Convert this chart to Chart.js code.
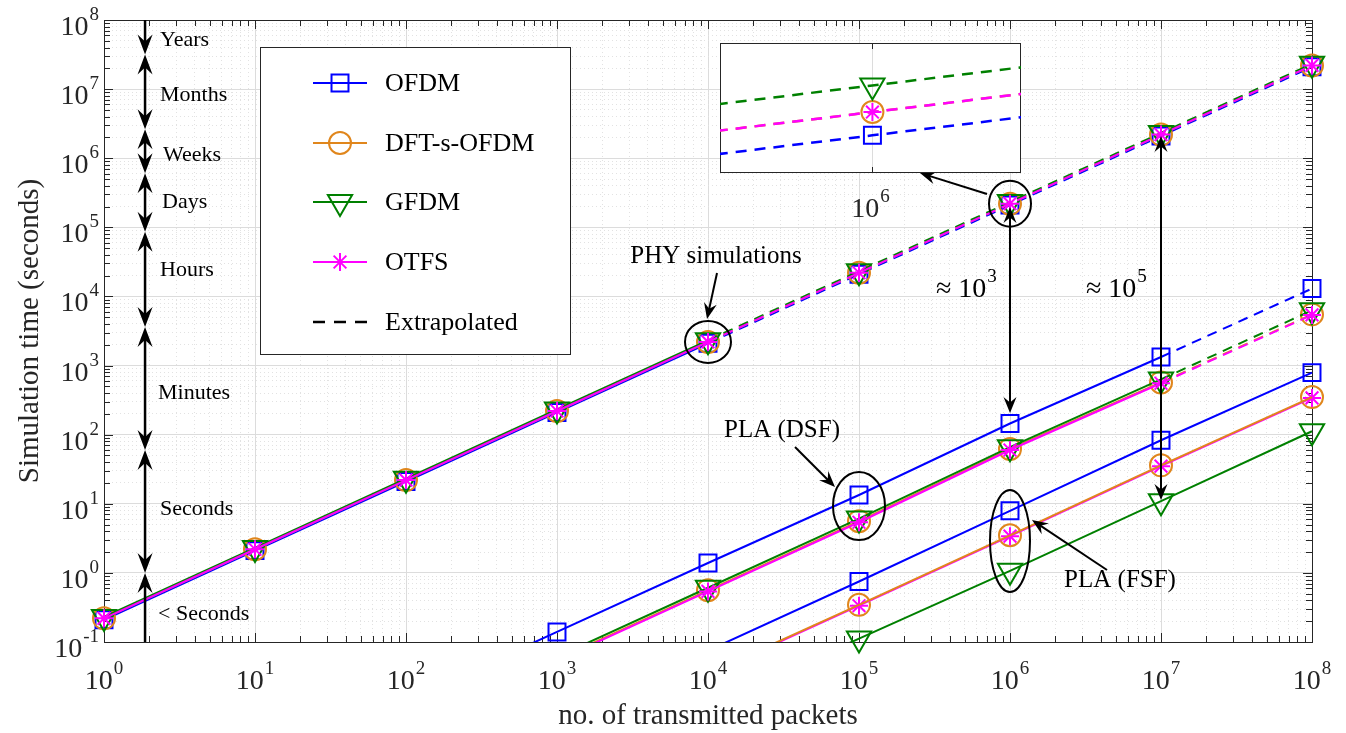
<!DOCTYPE html>
<html>
<head>
<meta charset="utf-8">
<script src="https://cdn.jsdelivr.net/npm/chart.js@4.4.1/dist/chart.umd.min.js"></script>
<style>
  html, body { margin: 0; padding: 0; background: #fff; overflow: hidden; }
  #wrap { position: relative; width: 1346px; height: 733px; }
  #main { position: absolute; left: 0; top: 0; width: 1346px; height: 733px; }
  #inset { position: absolute; left: 720px; top: 43px; width: 301px; height: 185px; }
</style>
</head>
<body>
<div id="wrap">
  <div id="main"><canvas id="mainChart"></canvas></div>
  <div id="inset"><canvas id="insetChart"></canvas></div>
</div>
<script>
// x axis: number of transmitted packets
const packets = [1, 10, 100, 1e3, 1e4, 1e5, 1e6, 1e7, 1e8];

// PHY simulation time in seconds (measured up to 1e4 packets, extrapolated after)
const phyOfdm = [0.21, 2.1, 21, 210, 2100, 21000, 2.1e5, 2.1e6, 2.1e7];
const phyDft  = [0.22, 2.2, 22, 220, 2200, 22000, 2.2e5, 2.2e6, 2.2e7];
const phyGfdm = [0.23, 2.3, 23, 232, 2320, 23200, 2.32e5, 2.32e6, 2.32e7];
const phyOtfs = [0.22, 2.2, 22, 220, 2200, 22000, 2.2e5, 2.2e6, 2.2e7];
const phyMeasuredUpTo = 1e4;

// PLA (DSF) time, measured up to 1e7 packets
const dsfOfdm = [null, null, 0.014, 0.14, 1.39, 13.4, 145, 1330, 13000];
const dsfDft  = [null, null, null, 0.056, 0.56, 5.6, 62, 570, 5500];
const dsfGfdm = [null, null, null, 0.061, 0.61, 6.1, 66, 630, 6300];
const dsfOtfs = [null, null, null, 0.054, 0.54, 5.4, 60, 555, 5400];
const dsfMeasuredUpTo = 1e7;

// PLA (FSF) time, all measured
const fsfOfdm = [null, null, null, null, 0.075, 0.75, 7.9, 83, 790];
const fsfDft  = [null, null, null, null, 0.035, 0.345, 3.5, 36, 350];
const fsfGfdm = [null, null, null, null, 0.0112, 0.112, 1.07, 10.9, 112];
const fsfOtfs = [null, null, null, null, 0.034, 0.335, 3.4, 35, 340];
const fsfMeasuredUpTo = 1e8;

// time scale on the left (seconds)
const timeUnits = [1, 60, 3600, 86400, 604800, 2.63e6, 3.156e7];
const timeNames = ['< Seconds', 'Seconds', 'Minutes', 'Hours', 'Days', 'Weeks', 'Months', 'Years'];

const schemes = ['OFDM', 'DFT-s-OFDM', 'GFDM', 'OTFS'];
const colors = ['#0000ff', '#e0861c', '#008000', '#ff00ff'];
const markers = ['rect', 'circle', 'triangle', 'star'];
const markerSizes = [12, 11, 14, 9];
const markerRot = [0, 0, 180, 0];

const phyAll = [phyOfdm, phyDft, phyGfdm, phyOtfs];
const dsfAll = [dsfOfdm, dsfDft, dsfGfdm, dsfOtfs];
const fsfAll = [fsfOfdm, fsfDft, fsfGfdm, fsfOtfs];

const serif = '"Liberation Serif", "DejaVu Serif", serif';
const yMin = 0.1, yMax = 1e8;

function pts(vals, from, to) {
  const out = [];
  packets.forEach((p, i) => {
    if (vals[i] != null && p >= from && p <= to) out.push({ x: p, y: vals[i] });
  });
  return out;
}

function lineSet(k, data, dashed) {
  return {
    data: data, showLine: true, borderColor: colors[k], borderWidth: 2,
    borderDash: dashed ? [10, 7] : [], pointRadius: 0,
    clip: { left: 5, top: 5, right: 5, bottom: 0 }
  };
}

function markerSet(k, data) {
  return {
    data: data, showLine: false, pointStyle: markers[k], pointRadius: markerSizes[k],
    pointRotation: markerRot[k], borderColor: colors[k], pointBorderWidth: 2,
    pointBackgroundColor: 'rgba(0,0,0,0)', clip: false
  };
}

// build datasets, OTFS first so it ends up on top
const datasets = [];
[3, 2, 1, 0].forEach(k => {
  const groups = [[phyAll[k], phyMeasuredUpTo], [dsfAll[k], dsfMeasuredUpTo], [fsfAll[k], fsfMeasuredUpTo]];
  const marks = [];
  const lines = [];
  groups.forEach(([vals, upTo], g) => {
    const solid = lineSet(k, pts(vals, 0, upTo), false);
    // the DFT-s-OFDM FSF line sits over the OTFS one in the original
    if (g === 2 && k === 1) solid.order = -1;
    lines.push(solid);
    const ext = pts(vals, upTo, Infinity);
    if (ext.length > 1) lines.push(lineSet(k, ext, true));
    pts(vals, 0, Infinity).forEach(p => { if (p.y >= yMin) marks.push(p); });
  });
  datasets.push(markerSet(k, marks));
  lines.forEach(l => datasets.push(l));
});

function isDecade(v) {
  const l = Math.log10(v);
  return Math.abs(l - Math.round(l)) < 1e-6;
}

function decadeTicks(lo, hi) {
  return axis => {
    const t = [];
    for (let e = lo; e <= hi; e++) {
      for (let m = 1; m <= 9; m++) {
        if (e === hi && m > 1) break;
        t.push({ value: m * Math.pow(10, e) });
      }
    }
    axis.ticks = t;
  };
}

function drawMarker(ctx, k, x, y) {
  const r = markerSizes[k];
  ctx.save();
  ctx.strokeStyle = colors[k];
  ctx.lineWidth = 2;
  ctx.beginPath();
  if (markers[k] === 'rect') {
    const s = r * Math.SQRT1_2;
    ctx.rect(x - s, y - s, 2 * s, 2 * s);
  } else if (markers[k] === 'circle') {
    ctx.arc(x, y, r, 0, Math.PI * 2);
  } else if (markers[k] === 'triangle') {
    ctx.moveTo(x, y + r);
    ctx.lineTo(x - r * Math.sin(Math.PI / 3), y - r / 2);
    ctx.lineTo(x + r * Math.sin(Math.PI / 3), y - r / 2);
    ctx.closePath();
  } else {
    for (let i = 0; i < 4; i++) {
      const a = i * Math.PI / 4;
      ctx.moveTo(x - Math.cos(a) * r, y - Math.sin(a) * r);
      ctx.lineTo(x + Math.cos(a) * r, y + Math.sin(a) * r);
    }
  }
  ctx.stroke();
  ctx.restore();
}

// "10" with a raised exponent
function powLabel(ctx, prefix, exp, x, y, align) {
  ctx.font = '28px ' + serif;
  const wb = ctx.measureText(prefix + '10').width;
  ctx.font = '19px ' + serif;
  const we = ctx.measureText(exp).width;
  const total = wb + we + 1;
  const left = align === 'center' ? x - total / 2 : (align === 'right' ? x - total : x);
  ctx.textAlign = 'left';
  ctx.textBaseline = 'alphabetic';
  ctx.font = '28px ' + serif;
  ctx.fillText(prefix + '10', left, y);
  ctx.font = '19px ' + serif;
  ctx.fillText(exp, left + wb + 1, y - 15);
}

function arrowHead(ctx, x, y, ang, len, half) {
  const c = Math.cos(ang), s = Math.sin(ang);
  const bx = x - c * len, by = y - s * len;
  const nx = x - c * len * 0.65, ny = y - s * len * 0.65;
  ctx.beginPath();
  ctx.moveTo(x, y);
  ctx.lineTo(bx - s * half, by + c * half);
  ctx.lineTo(nx, ny);
  ctx.lineTo(bx + s * half, by - c * half);
  ctx.closePath();
  ctx.fill();
}

function arrow(ctx, x1, y1, x2, y2, both, len, half) {
  len = len || 14; half = half || 6;
  const ang = Math.atan2(y2 - y1, x2 - x1);
  const c = Math.cos(ang), s = Math.sin(ang);
  const sx = both ? x1 + c * len * 0.6 : x1, sy = both ? y1 + s * len * 0.6 : y1;
  ctx.beginPath();
  ctx.moveTo(sx, sy);
  ctx.lineTo(x2 - c * len * 0.6, y2 - s * len * 0.6);
  ctx.stroke();
  arrowHead(ctx, x2, y2, ang, len, half);
  if (both) arrowHead(ctx, x1, y1, ang + Math.PI, len, half);
}

function ellipse(ctx, cx, cy, rx, ry) {
  ctx.beginPath();
  ctx.ellipse(cx, cy, rx, ry, 0, 0, Math.PI * 2);
  ctx.stroke();
}

const decor = {
  id: 'decor',
  beforeDatasetsDraw(chart) {
    const { ctx, chartArea: a, scales: { x, y } } = chart;
    ctx.save();
    ctx.strokeStyle = '#262626';
    ctx.lineWidth = 1;
    ctx.beginPath();
    x.ticks.forEach(t => {
      const px = Math.round(x.getPixelForValue(t.value)) + 0.5;
      const len = isDecade(t.value) ? 9 : 6;
      ctx.moveTo(px, a.bottom); ctx.lineTo(px, a.bottom - len);
      ctx.moveTo(px, a.top); ctx.lineTo(px, a.top + len);
    });
    y.ticks.forEach(t => {
      const py = Math.round(y.getPixelForValue(t.value)) + 0.5;
      const len = isDecade(t.value) ? 9 : 6;
      ctx.moveTo(a.left, py); ctx.lineTo(a.left + len, py);
      ctx.moveTo(a.right, py); ctx.lineTo(a.right - len, py);
    });
    ctx.stroke();
    ctx.strokeRect(Math.round(a.left) + 0.5, Math.round(a.top) + 0.5, Math.round(a.right - a.left), Math.round(a.bottom - a.top));
    ctx.restore();
  },
  afterDatasetsDraw(chart) {
    const { ctx, chartArea: a, scales: { x, y } } = chart;
    ctx.save();
    ctx.fillStyle = '#000';
    ctx.strokeStyle = '#000';

    // time scale arrows
    ctx.lineWidth = 2.5;
    const tx = x.getPixelForValue(1.87);
    const bounds = [a.bottom].concat(timeUnits.map(v => y.getPixelForValue(v))).concat([a.top]);
    for (let i = 0; i < bounds.length - 1; i++) {
      const lo = bounds[i], hi = bounds[i + 1];
      if (i === 0) arrow(ctx, tx, lo, tx, hi, false, 20, 7.5);
      else if (i === bounds.length - 2) arrow(ctx, tx, hi, tx, lo, false, 20, 7.5);
      else arrow(ctx, tx, lo, tx, hi, true, 20, 7.5);
    }
    ctx.font = '22px ' + serif;
    ctx.textAlign = 'left';
    ctx.textBaseline = 'middle';
    const labelPos = [[158, 614], [160, 509], [158, 393], [160, 270], [162, 202], [163, 155], [160, 95], [160, 40]];
    timeNames.forEach((n, i) => ctx.fillText(n, labelPos[i][0], labelPos[i][1]));

    // annotations
    ctx.lineWidth = 2;
    ellipse(ctx, x.getPixelForValue(packets[4]), y.getPixelForValue(phyDft[4]), 23, 21);
    ellipse(ctx, x.getPixelForValue(packets[6]), y.getPixelForValue(phyDft[6]), 21, 23);
    ellipse(ctx, x.getPixelForValue(packets[5]), 506, 26, 34);
    ellipse(ctx, x.getPixelForValue(packets[6]), 541, 20, 51);

    ctx.font = '25px ' + serif;
    ctx.textAlign = 'center';
    ctx.fillText('PHY simulations', 716, 256);
    ctx.fillText('PLA (DSF)', 782, 430);
    ctx.fillText('PLA (FSF)', 1120, 580);

    arrow(ctx, 717, 273, 707, 319, false, 16, 6.5);
    arrow(ctx, 795, 447, 835, 487, false, 16, 6.5);
    arrow(ctx, 1107, 570, 1032, 520, false, 16, 6.5);
    arrow(ctx, 987, 194, 920, 173, false, 16, 6.5);
    const x6 = x.getPixelForValue(1e6), x7 = x.getPixelForValue(1e7);
    arrow(ctx, x6, 207, x6, 413, true, 16, 6.5);
    arrow(ctx, x7, 136, x7, 500, true, 16, 6.5);

    powLabel(ctx, '\u2248 ', '3', 936, 297, 'left');
    powLabel(ctx, '\u2248 ', '5', 1086, 297, 'left');
    ctx.restore();
  },
  afterDraw(chart) {
    const { ctx, chartArea: a, scales: { x, y } } = chart;
    ctx.save();
    ctx.fillStyle = '#262626';
    x.ticks.forEach(t => {
      if (!isDecade(t.value)) return;
      powLabel(ctx, '', String(Math.round(Math.log10(t.value))), x.getPixelForValue(t.value), a.bottom + 47, 'center');
    });
    y.ticks.forEach(t => {
      if (!isDecade(t.value)) return;
      powLabel(ctx, '', String(Math.round(Math.log10(t.value))), a.left - 5, y.getPixelForValue(t.value) + 15, 'right');
    });

    // axis titles
    ctx.font = '29px ' + serif;
    ctx.textAlign = 'center';
    ctx.textBaseline = 'alphabetic';
    ctx.fillText('no. of transmitted packets', (a.left + a.right) / 2, 724);
    ctx.save();
    ctx.translate(38, (a.top + a.bottom) / 2);
    ctx.rotate(-Math.PI / 2);
    ctx.fillText('Simulation time (seconds)', 0, 0);
    ctx.restore();

    // legend
    ctx.fillStyle = '#fff';
    ctx.fillRect(260, 47, 310, 307);
    ctx.strokeStyle = '#262626';
    ctx.lineWidth = 1;
    ctx.strokeRect(260.5, 47.5, 310, 307);
    const rows = [83, 143, 202, 262, 322];
    ctx.font = '26px ' + serif;
    ctx.textAlign = 'left';
    ctx.textBaseline = 'middle';
    schemes.forEach((s, k) => {
      ctx.strokeStyle = colors[k];
      ctx.lineWidth = 2;
      ctx.beginPath();
      ctx.moveTo(313, rows[k]); ctx.lineTo(367, rows[k]);
      ctx.stroke();
      drawMarker(ctx, k, 340, rows[k]);
      ctx.fillStyle = '#000';
      ctx.fillText(s, 385, rows[k] + 1);
    });
    ctx.strokeStyle = '#000';
    ctx.lineWidth = 2.5;
    ctx.setLineDash([12, 9]);
    ctx.beginPath();
    ctx.moveTo(313, rows[4]); ctx.lineTo(367, rows[4]);
    ctx.stroke();
    ctx.setLineDash([]);
    ctx.fillText('Extrapolated', 385, rows[4] + 1);
    ctx.restore();
  }
};

new Chart(document.getElementById('mainChart'), {
  type: 'scatter',
  data: { datasets: datasets },
  options: {
    responsive: true,
    maintainAspectRatio: false,
    animation: false,
    events: [],
    layout: { autoPadding: false, padding: { left: 104, right: 34, top: 20, bottom: 91 } },
    plugins: { legend: { display: false }, tooltip: { enabled: false } },
    scales: {
      x: {
        type: 'logarithmic', min: 1, max: 1e8,
        afterBuildTicks: decadeTicks(0, 8),
        ticks: { display: false },
        grid: { drawTicks: false, color: c => (c.tick && isDecade(c.tick.value)) ? '#dcdcdc' : '#e2e2e2' },
        border: { display: false, dash: c => (c.tick && !isDecade(c.tick.value)) ? [1, 3] : [] }
      },
      y: {
        type: 'logarithmic', min: yMin, max: yMax,
        afterBuildTicks: decadeTicks(-1, 8),
        ticks: { display: false },
        grid: { drawTicks: false, color: c => (c.tick && isDecade(c.tick.value)) ? '#dcdcdc' : '#e2e2e2' },
        border: { display: false, dash: c => (c.tick && !isDecade(c.tick.value)) ? [1, 3] : [] }
      }
    }
  },
  plugins: [decor]
});

// inset: zoom around 1e6 packets on the extrapolated PHY lines
const insetXRange = [9.637e5, 1.0367e6];
const insetYRange = [1.948e5, 2.525e5];

const insetSets = [];
[3, 2, 1, 0].forEach(k => {
  const ext = pts(phyAll[k], phyMeasuredUpTo, Infinity);
  insetSets.push({
    data: ext, showLine: true, borderColor: colors[k], borderWidth: 2.5, borderDash: [11, 8],
    pointStyle: markers[k], pointRadius: markerSizes[k], pointRotation: markerRot[k],
    pointBorderWidth: 2, pointBackgroundColor: 'rgba(0,0,0,0)'
  });
});

const insetDecor = {
  id: 'insetDecor',
  beforeDraw(chart) {
    const { ctx, chartArea: a } = chart;
    ctx.save();
    ctx.fillStyle = '#fff';
    ctx.fillRect(a.left, a.top, a.right - a.left, a.bottom - a.top);
    ctx.restore();
  },
  beforeDatasetsDraw(chart) {
    const { ctx, chartArea: a, scales: { x } } = chart;
    const px = Math.round(x.getPixelForValue(1e6)) + 0.5;
    ctx.save();
    ctx.strokeStyle = '#262626';
    ctx.lineWidth = 1;
    ctx.beginPath();
    ctx.moveTo(px, a.bottom); ctx.lineTo(px, a.bottom - 6);
    ctx.moveTo(px, a.top); ctx.lineTo(px, a.top + 6);
    ctx.stroke();
    ctx.strokeRect(Math.round(a.left) + 0.5, Math.round(a.top) + 0.5, Math.round(a.right - a.left) - 1, Math.round(a.bottom - a.top) - 1);
    ctx.restore();
  },
  afterDraw(chart) {
    const { ctx, chartArea: a, scales: { x } } = chart;
    ctx.save();
    ctx.fillStyle = '#262626';
    powLabel(ctx, '', '6', x.getPixelForValue(1e6) - 2, a.bottom + 44, 'center');
    ctx.restore();
  }
};

new Chart(document.getElementById('insetChart'), {
  type: 'scatter',
  data: { datasets: insetSets },
  options: {
    responsive: true,
    maintainAspectRatio: false,
    animation: false,
    events: [],
    layout: { autoPadding: false, padding: { left: 0, right: 0, top: 0, bottom: 55 } },
    plugins: { legend: { display: false }, tooltip: { enabled: false } },
    scales: {
      x: {
        type: 'logarithmic', min: insetXRange[0], max: insetXRange[1],
        afterBuildTicks: axis => { axis.ticks = [{ value: 1e6 }]; },
        ticks: { display: false },
        grid: { drawTicks: false, color: '#dcdcdc' },
        border: { display: false }
      },
      y: {
        type: 'logarithmic', min: insetYRange[0], max: insetYRange[1],
        afterBuildTicks: axis => { axis.ticks = []; },
        ticks: { display: false },
        grid: { display: false, drawTicks: false },
        border: { display: false }
      }
    }
  },
  plugins: [insetDecor]
});
</script>
</body>
</html>
